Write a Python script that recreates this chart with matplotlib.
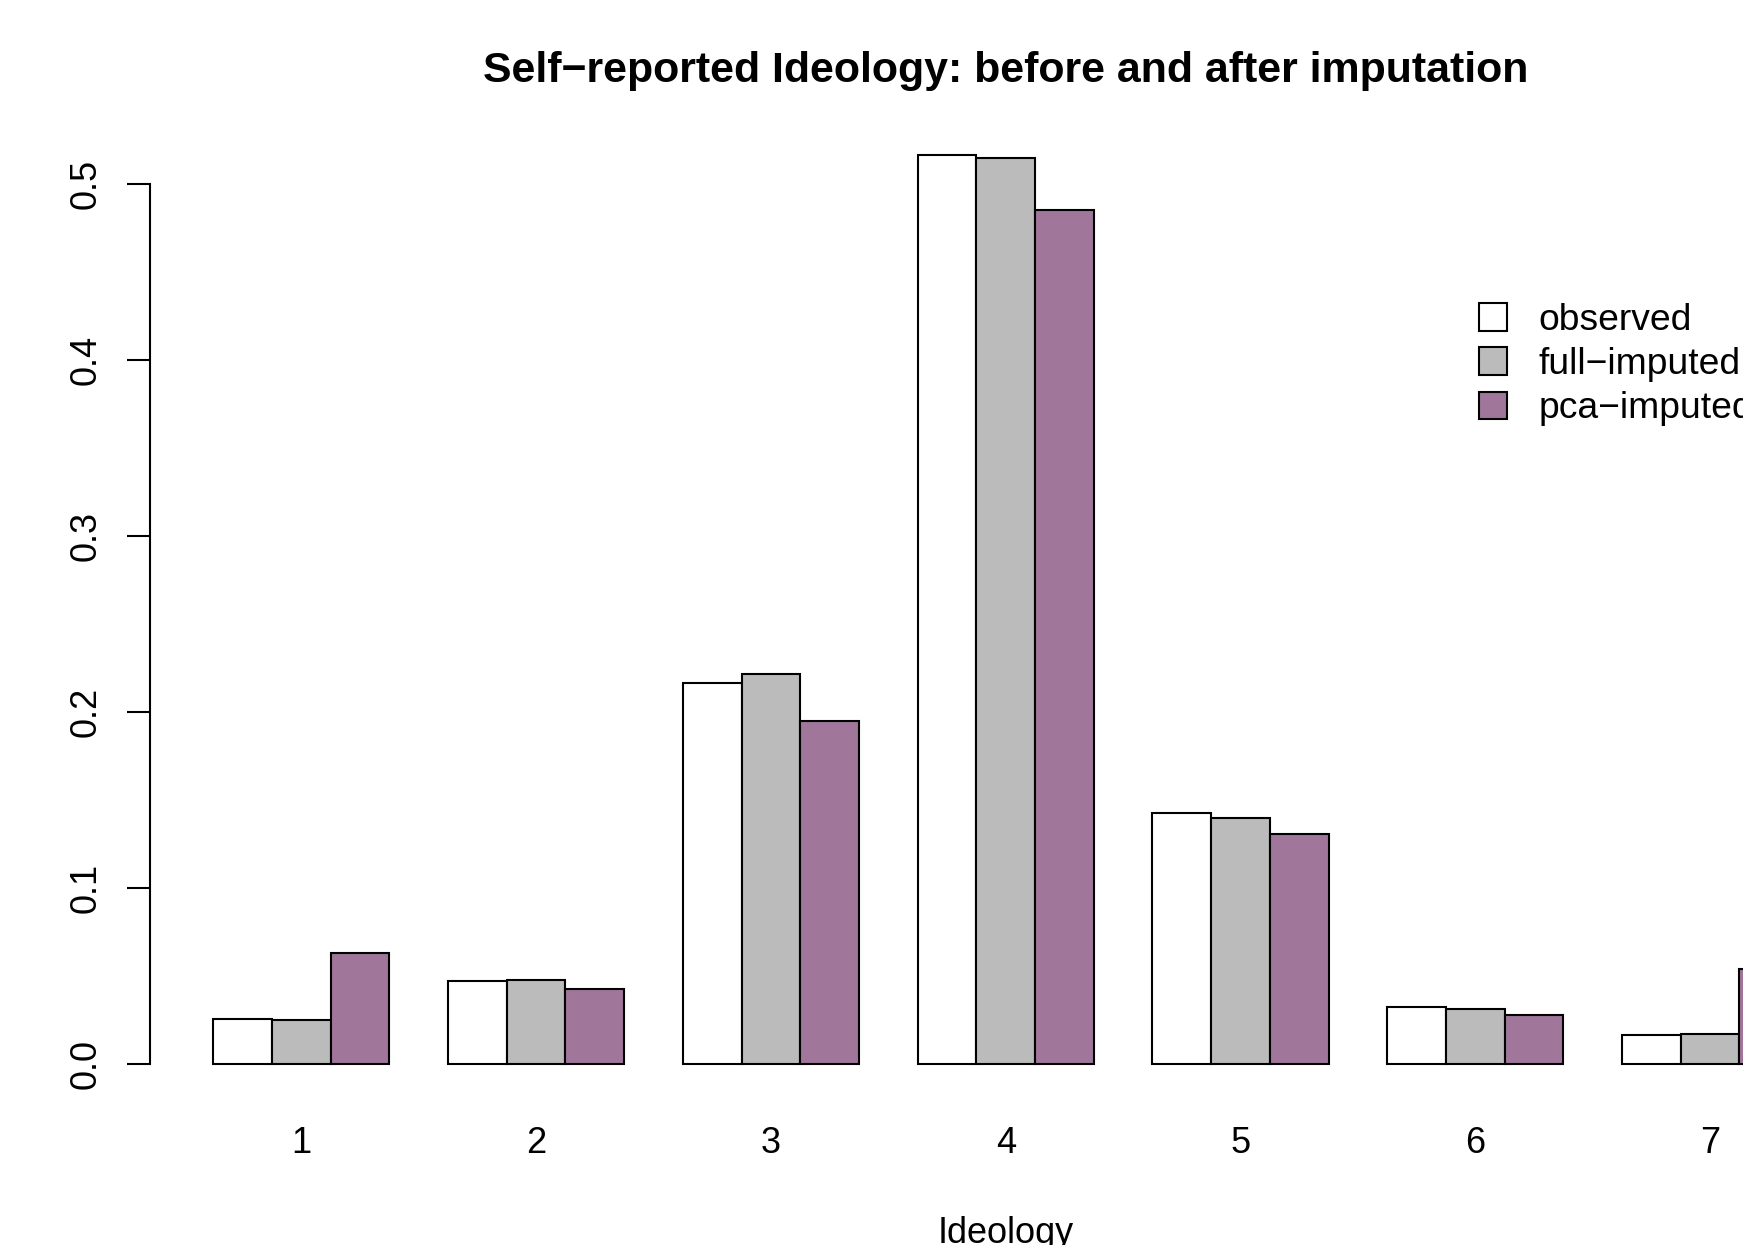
import matplotlib
matplotlib.use("Agg")
import matplotlib.pyplot as plt
import numpy as np
from matplotlib.patches import Patch

plt.rcParams['font.family'] = ['Liberation Sans', 'DejaVu Sans']

categories = ['1', '2', '3', '4', '5', '6', '7']
observed = [0.0258, 0.0475, 0.2165, 0.5167, 0.1430, 0.0323, 0.0167]
full_imputed = [0.0252, 0.0480, 0.2215, 0.5150, 0.1400, 0.0316, 0.0170]
pca_imputed = [0.0634, 0.0430, 0.1950, 0.4854, 0.1310, 0.0278, 0.0540]
series_labels = ['observed', 'full\u2212imputed', 'pca\u2212imputed']
colors = ['white', '#BBBBBB', '#A0769A']


def main():
    fig = plt.figure(figsize=(17.43, 12.45), dpi=100)
    # plot region placed like R's, running off the right edge
    ax = fig.add_axes([0.0860, 0.1159, 0.9820, 0.7889])

    series = [observed, full_imputed, pca_imputed]
    n = len(categories)
    group_left = np.arange(n) * 4 + 1
    for i, vals in enumerate(series):
        ax.bar(group_left + i, vals, width=1, align='edge', color=colors[i],
               edgecolor='black', linewidth=1.5, label=series_labels[i])

    # R style ranges (4% extension)
    xl = (1, n * 4)
    xr = (xl[1] - xl[0]) * 0.04
    ax.set_xlim(xl[0] - xr, xl[1] + xr)
    ymax = max(max(s) for s in series)
    ax.set_ylim(-ymax * 0.04, ymax * 1.04)

    for s in ['top', 'right', 'bottom']:
        ax.spines[s].set_visible(False)
    ax.spines['left'].set_bounds(0, 0.5)
    ax.spines['left'].set_linewidth(1.5)

    yt = [0.0, 0.1, 0.2, 0.3, 0.4, 0.5]
    ax.set_yticks(yt)
    ax.set_yticklabels(['%.1f' % v for v in yt], rotation=90, va='center')
    ax.tick_params(axis='y', length=16.5, width=1.5, pad=17, labelsize=26)
    ax.set_xticks(group_left + 1.5)
    ax.set_xticklabels(categories)
    ax.tick_params(axis='x', length=0, pad=18, labelsize=26)

    ax.set_xlabel('Ideology', fontsize=26, labelpad=40)
    ax.set_title('Self\u2212reported Ideology: before and after imputation',
                 fontsize=30.9, fontweight='bold', pad=26.5)

    handles = [Patch(facecolor=c, edgecolor='black', linewidth=1.5) for c in colors]
    ax.legend(handles, series_labels, loc='upper left', frameon=False,
              bbox_to_anchor=(0.8485, 0.7568), bbox_transform=fig.transFigure,
              fontsize=26.8, borderpad=0, borderaxespad=0, handlelength=0.76,
              handleheight=0.76, handletextpad=0.83, labelspacing=0.25)

    fig.savefig('out.png', dpi=100)


if __name__ == '__main__':
    main()
